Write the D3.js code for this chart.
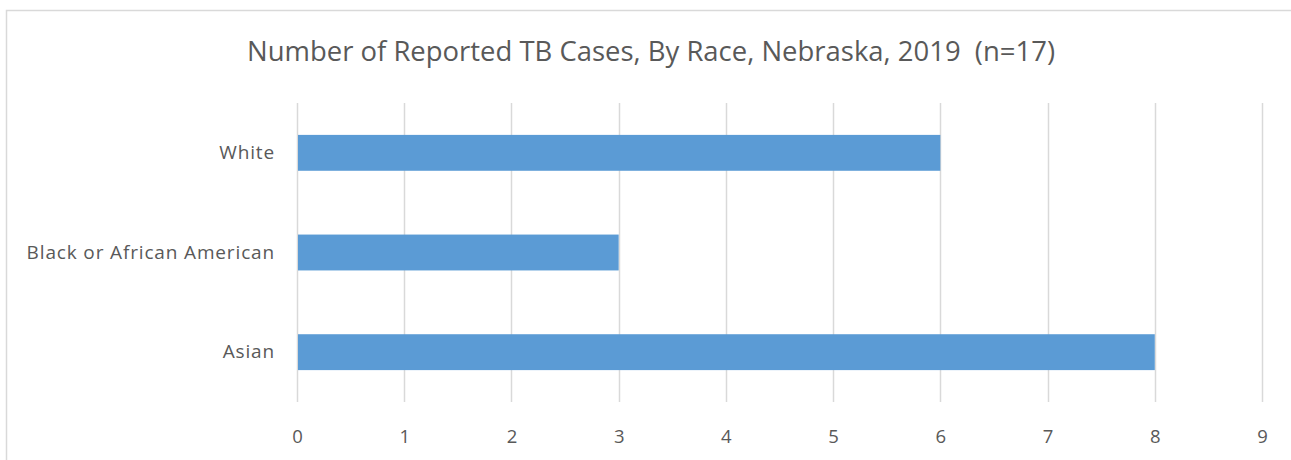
<!DOCTYPE html>
<html>
<head>
<meta charset="utf-8">
<script src="https://cdn.jsdelivr.net/npm/d3@7"></script>
<style>
  body { margin: 0; background: #fff; }
  text { font-family: "Open Sans", "Noto Sans", sans-serif; fill: #595959; }
</style>
</head>
<body>
<div id="chart"></div>
<script>
// data
var races = ["White", "Black or African American", "Asian"];
var cases = [6, 3, 8];
var xTicks = [0, 1, 2, 3, 4, 5, 6, 7, 8, 9];
var title = "Number of Reported TB Cases, By Race, Nebraska, 2019\u00a0 (n=17)";

var width = 1291, height = 460;
var margin = {top: 103, right: 29, bottom: 58, left: 297};

var svg = d3.select("#chart").append("svg")
    .attr("width", width)
    .attr("height", height);

// chart frame
svg.append("rect")
    .attr("x", 6.5).attr("y", 10.5)
    .attr("width", width + 20).attr("height", height + 20)
    .attr("fill", "none")
    .attr("stroke", "#d9d9d9")
    .attr("stroke-width", 1.5);

var x = d3.scaleLinear()
    .domain([0, 9])
    .range([margin.left, width - margin.right]);

var y = d3.scaleBand()
    .domain(races)
    .range([margin.top, height - margin.bottom])
    .paddingInner(0.64)
    .paddingOuter(0.32);

// gridlines
svg.append("g")
    .selectAll("line")
    .data(xTicks)
    .join("line")
    .attr("x1", function(d) { return Math.round(x(d)) + 0.5; })
    .attr("x2", function(d) { return Math.round(x(d)) + 0.5; })
    .attr("y1", margin.top)
    .attr("y2", height - margin.bottom)
    .attr("stroke", "#d9d9d9")
    .attr("stroke-width", 1.5);

// bars
svg.append("g")
    .selectAll("rect")
    .data(races)
    .join("rect")
    .attr("x", x(0) + 1)
    .attr("y", function(d) { return y(d); })
    .attr("width", function(d, i) { return x(cases[i]) - x(0) - 1; })
    .attr("height", y.bandwidth())
    .attr("fill", "#5b9bd5");

// x axis labels
var xAxis = d3.axisBottom(x)
    .tickValues(xTicks)
    .tickSize(0)
    .tickPadding(0);

svg.append("g")
    .attr("transform", "translate(0,430)")
    .call(xAxis)
    .call(function(g) { g.select(".domain").remove(); })
    .selectAll("text")
    .attr("font-size", 18.5)
    .attr("font-family", null)
    .style("fill", "#595959");

// y axis labels
var yAxis = d3.axisLeft(y).tickSize(0).tickPadding(22);
svg.append("g")
    .attr("transform", "translate(" + margin.left + ",0)")
    .call(yAxis)
    .call(function(g) { g.select(".domain").remove(); })
    .selectAll("text")
    .attr("font-size", 19)
    .attr("letter-spacing", 0.85)
    .attr("font-family", null)
    .style("fill", "#595959");

// title
svg.append("text")
    .attr("x", 651)
    .attr("y", 61)
    .attr("text-anchor", "middle")
    .attr("font-size", 27.5)
    .attr("textLength", 808)
    .attr("lengthAdjust", "spacingAndGlyphs")
    .text(title);
</script>
</body>
</html>
